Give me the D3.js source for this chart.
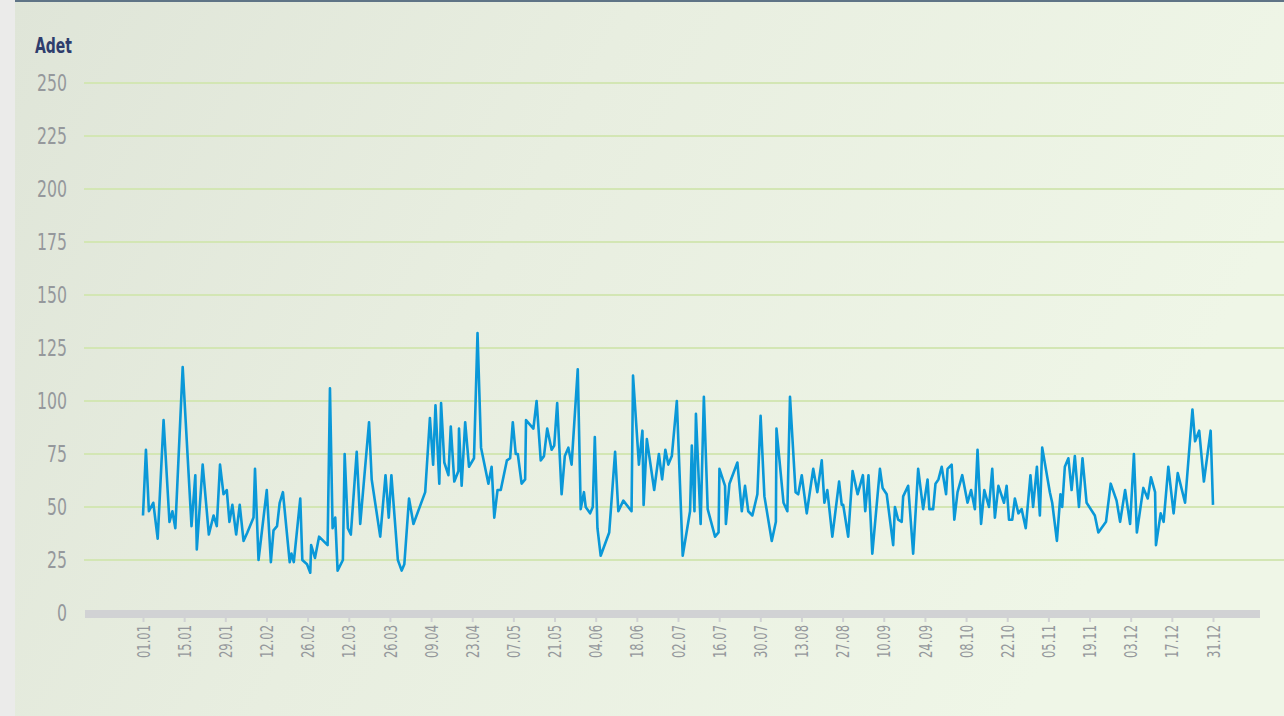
<!DOCTYPE html>
<html>
<head>
<meta charset="utf-8">
<script src="https://cdn.jsdelivr.net/npm/d3@7"></script>
<style>
  body { margin: 0; background: #e9eae8; }
  svg text { font-family: "Liberation Sans Narrow", "DejaVu Sans Condensed", sans-serif; }
</style>
</head>
<body>
<script>
// day offsets from 01.01 and the count for that day
var dayOffsets = [0,1,2,3.5,5,7,9,10,11,13.5,16.5,17.8,18.3,20.3,22.4,24,25.1,26.2,27.4,28.5,29.4,30.4,31.7,32.9,34.2,35.5,37.6,38.1,39.3,42.1,43.5,44.4,45.6,46.5,47.6,49.9,50.5,51.3,53.5,54.2,55.8,56.9,57.2,58.5,59.9,62.8,63.6,64.5,65.4,66.2,68,68.6,69.7,70.7,72.7,73.9,76.9,77.8,80.7,82.5,83.6,84.5,86.7,88,88.9,90.5,92,96,97.6,98.7,99.5,100.8,101.4,102.5,103.9,104.7,105.9,107.3,107.5,108.4,109.6,110.9,112.6,113.8,115,117.5,118.6,119.5,120.6,121.7,123.8,124.9,125.8,126.8,127.5,128.8,130,130.3,132.8,133.9,135.3,136.4,137.5,139,139.9,140.9,142.4,143.5,144.7,145.8,147.9,148.9,150,150.6,152.1,153,153.7,154.6,155.7,158.6,160.6,161.7,163.4,166.2,166.7,168.7,169.9,170.3,171.4,173.9,175.5,176.6,177.7,178.7,179.9,181.6,183.6,186.1,186.7,187.6,188.1,189.7,190.8,192.1,194.6,195.8,196.1,198,198.3,199.5,202.2,203.7,204.8,205.9,207.3,209,210.1,211.4,213.9,215.3,215.5,217.9,219.2,220.1,222,222.9,224.1,225.8,228,229.4,230.9,231.8,232.8,234.5,236.8,237.7,238.2,239.9,241.4,243.1,244.9,245.7,246.8,248.1,250.7,251.6,253,255.2,255.8,256.9,258.1,258.6,260.3,262,263.7,265.4,266.9,267.5,268.8,269.6,270.6,271.7,273.2,273.7,275.1,276,277.1,278.7,280.5,281.7,283,283.9,285.1,286.2,287.8,288.9,289.8,291,292.9,293.8,294.6,295.7,296.6,297.8,298.9,300.3,301.9,302.8,304.1,305.1,305.9,308.5,309.3,310.9,312.1,312.7,313.6,314.8,315.9,317,318.4,319.6,321,323.8,325,327.6,329.2,331.2,332.4,334.1,335.8,337.1,338.1,340.3,341.8,342.9,344.3,344.6,346.2,347.2,348.8,350.6,352,354.5,357,357.9,359.3,360.9,363.2,364];
var counts = [46,77,48,52,35,91,43,48,40,116,41,65,30,70,37,46,41,70,56,58,43,51,37,51,34,38,45,68,25,58,24,39,41,52,57,24,28,24,54,25,23,19,32,26,36,32,106,40,45,20,25,75,40,37,76,42,90,63,36,65,45,65,25,20,23,54,42,57,92,70,98,61,99,71,65,88,62,67,87,60,90,69,73,132,78,61,69,45,58,58,72,73,90,75,75,61,63,91,87,100,72,74,87,77,79,99,56,74,78,70,115,49,57,50,47,50,83,40,27,38,76,48,53,48,112,70,86,51,82,58,75,63,77,70,74,100,27,48,79,48,94,42,102,49,36,38,68,60,42,61,71,48,60,48,46,56,93,55,34,43,87,52,48,102,57,56,65,47,68,57,72,52,58,36,62,51,51,36,67,56,65,48,65,28,68,59,56,32,50,44,43,55,60,28,68,49,63,49,49,61,63,69,56,68,70,44,57,65,52,58,49,77,42,58,50,68,45,60,52,60,44,44,54,47,49,40,65,50,69,46,78,57,52,34,56,50,69,73,58,74,50,73,52,46,38,43,61,53,43,58,42,75,38,59,54,64,57,32,47,43,69,47,66,52,96,81,86,62,86,51];
var tickLabels = ["01.01","15.01","29.01","12.02","26.02","12.03","26.03","09.04","23.04","07.05","21.05","04.06","18.06","02.07","16.07","30.07","13.08","27.08","10.09","24.09","08.10","22.10","05.11","19.11","03.12","17.12","31.12"];
var yTicks = [0,25,50,75,100,125,150,175,200,225,250];

var w = 1284, h = 716;

var svg = d3.select("body").append("svg")
            .attr("width", w)
            .attr("height", h);

// background
var defs = svg.append("defs");
var grad = defs.append("linearGradient").attr("id","bg")
               .attr("x1","0").attr("y1","0").attr("x2","1").attr("y2","0.3");
grad.append("stop").attr("offset","0").attr("stop-color","#dfe5d8");
grad.append("stop").attr("offset","0.45").attr("stop-color","#e8eee0");
grad.append("stop").attr("offset","1").attr("stop-color","#eff6e7");

svg.append("rect").attr("x",0).attr("y",0).attr("width",w).attr("height",h).attr("fill","#ebebea");
svg.append("rect").attr("x",15).attr("y",0).attr("width",w-15).attr("height",h).attr("fill","url(#bg)");
svg.append("rect").attr("x",15).attr("y",0).attr("width",w-15).attr("height",2).attr("fill","#5f7486");

var x = d3.scaleLinear().domain([0,364]).range([143,1213]);
var y = d3.scaleLinear().domain([0,250]).range([613,83]);

// grid lines
svg.append("g").selectAll("line")
   .data(yTicks.filter(function(d){ return d > 0; }))
   .enter().append("line")
   .attr("x1",84).attr("x2",w)
   .attr("y1",function(d){ return y(d); })
   .attr("y2",function(d){ return y(d); })
   .attr("stroke","#d3e6b4")
   .attr("stroke-width",2);

// y labels (narrow font squeezed to the width of the original)
svg.append("g").selectAll("text")
   .data(yTicks)
   .enter().append("text")
   .attr("x",67)
   .attr("y",function(d){ return y(d); })
   .attr("dy","0.36em")
   .attr("text-anchor","end")
   .attr("fill","#95989c")
   .attr("textLength",function(d){ return String(d).length * 10; })
   .attr("lengthAdjust","spacingAndGlyphs")
   .style("font-size","23px")
   .text(function(d){ return d; });

svg.append("text")
   .attr("x",35).attr("y",53)
   .attr("fill","#2e3d6d")
   .attr("textLength",37)
   .attr("lengthAdjust","spacingAndGlyphs")
   .style("font-size","22px")
   .style("font-weight","bold")
   .text("Adet");

// x axis bar and ticks
svg.append("rect").attr("x",85).attr("y",610).attr("width",1175).attr("height",8).attr("fill","#d1d2d4");

var tickDays = tickLabels.map(function(d,i){ return i*14; });
var xAxis = d3.axisBottom(x)
              .tickValues(tickDays)
              .tickSize(6)
              .tickFormat(function(d,i){ return tickLabels[i]; });

var gx = svg.append("g").attr("transform","translate(0,616)").call(xAxis);
gx.select(".domain").remove();
gx.selectAll(".tick line").attr("stroke","#d1d2d4").attr("stroke-width",2);
gx.selectAll(".tick text")
  .attr("fill","#95989c")
  .style("font-size","17px")
  .style("font-family",'"Liberation Sans Narrow", "DejaVu Sans Condensed", sans-serif')
  .attr("text-anchor","end")
  .attr("transform","rotate(-90)")
  .attr("textLength",33)
  .attr("lengthAdjust","spacingAndGlyphs")
  .attr("x",-9)
  .attr("y",0)
  .attr("dy","0.36em");

// the line
var line = d3.line()
             .x(function(d){ return x(d[0]); })
             .y(function(d){ return y(d[1]); });

svg.append("path")
   .datum(dayOffsets.map(function(d,i){ return [d, counts[i]]; }))
   .attr("d", line)
   .attr("fill","none")
   .attr("stroke","#0a98d8")
   .attr("stroke-width",2.6)
   .attr("stroke-linejoin","round");
</script>
</body>
</html>
